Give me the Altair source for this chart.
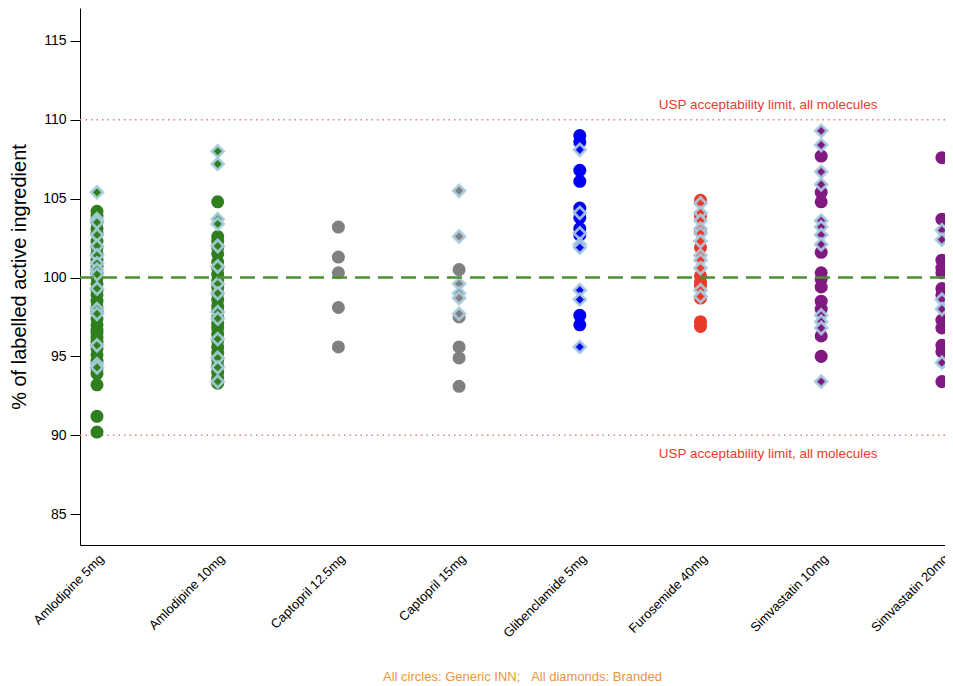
import altair as alt
import pandas as pd

categories = ["Amlodipine 5mg", "Amlodipine 10mg", "Captopril 12.5mg", "Captopril 15mg",
              "Glibenclamide 5mg", "Furosemide 40mg", "Simvastatin 10mg", "Simvastatin 20mg"]
colors = ["#2F7F1F", "#2F7F1F", "#808080", "#808080", "#0000F5", "#EA3A2A", "#7E1A80", "#7E1A80"]

# Generic INN (circles)
amlo5_generic = [104.2, 103.9, 103.5, 103.1, 102.8, 102.3, 101.9, 101.5, 101.1, 100.7, 100.3, 100.0,
                 99.6, 99.2, 98.9, 98.5, 98.1, 97.8, 97.4, 97.0, 96.7, 96.5, 96.2, 95.9, 95.5, 95.1,
                 94.7, 94.2, 93.9, 93.2, 91.2, 90.2]
amlo10_generic = [104.8, 102.6, 102.3, 101.9, 101.5, 101.0, 100.6, 100.2, 99.8, 99.4, 99.0, 98.6,
                  98.2, 97.9, 97.5, 97.1, 96.8, 96.4, 96.0, 95.6, 95.2, 94.8, 94.4, 94.0, 93.6, 93.3]
capto125_generic = [103.2, 101.3, 100.3, 98.1, 95.6]
capto15_generic = [100.5, 97.5, 95.6, 94.9, 93.1]
glib5_generic = [109.0, 108.6, 106.8, 106.1, 104.4, 103.8, 103.1, 102.7, 97.6, 97.0]
furo40_generic = [104.9, 103.9, 102.9, 101.9, 100.1, 99.7, 99.5, 98.7, 97.2, 96.9]
simva10_generic = [107.7, 105.4, 104.8, 101.6, 100.3, 99.9, 99.4, 98.5, 98.0, 96.3, 95.0]
simva20_generic = [107.6, 103.7, 101.1, 100.6, 100.3, 99.3, 98.9, 97.3, 96.8, 95.7, 95.3, 93.4]

# Branded (diamonds)
amlo5_branded = [105.4, 103.7, 103.5, 102.7, 102.0, 101.4, 100.9, 100.5, 100.2, 99.3, 98.0, 97.7,
                 95.7, 94.5, 94.3]
amlo10_branded = [108.0, 107.2, 103.7, 103.4, 102.0, 100.7, 99.6, 99.0, 97.8, 97.4, 96.1, 94.9,
                  94.3, 93.4]
capto125_branded = []
capto15_branded = [105.5, 102.6, 99.6, 99.0, 98.7, 97.7]
glib5_branded = [108.1, 104.1, 102.8, 102.1, 101.9, 99.2, 98.6, 95.6]
furo40_branded = [104.7, 104.1, 103.6, 103.1, 102.8, 102.3, 101.4, 101.1, 100.6, 99.2, 98.8]
simva10_branded = [109.3, 108.4, 106.7, 105.9, 103.6, 103.2, 102.7, 102.1, 97.6, 97.2, 96.8, 93.4]
simva20_branded = [103.0, 102.4, 98.6, 98.0, 94.6]

generic_lists = [amlo5_generic, amlo10_generic, capto125_generic, capto15_generic,
                 glib5_generic, furo40_generic, simva10_generic, simva20_generic]
branded_lists = [amlo5_branded, amlo10_branded, capto125_branded, capto15_branded,
                 glib5_branded, furo40_branded, simva10_branded, simva20_branded]

usp_limits = [110, 90]
target = 100
usp_label = "USP acceptability limit, all molecules"
caption = "All circles: Generic INN;\u00a0\u00a0\u00a0All diamonds: Branded"

rows = []
for i, (cat, g, b) in enumerate(zip(categories, generic_lists, branded_lists)):
    for v in g:
        rows.append({"idx": i, "category": cat, "value": v, "type": "Generic INN"})
    for v in b:
        rows.append({"idx": i, "category": cat, "value": v, "type": "Branded"})
df = pd.DataFrame(rows)

label_expr = "[" + ",".join("'" + c + "'" for c in categories) + "][datum.value]"

x_scale = alt.Scale(domain=[-0.1408, 7.0257], nice=False, zero=False)
x_enc = alt.X("idx:Q", scale=x_scale,
              axis=alt.Axis(values=list(range(len(categories))), labelExpr=label_expr,
                            title=None, labelAngle=-45, labelAlign="right", labelBaseline="top",
                            ticks=False, labelPadding=7, grid=False, labelFontSize=13,
                            labelColor="black", domainColor="black", labelFont="Liberation Sans"))
y_scale = alt.Scale(domain=[83.04, 117.09], nice=False, zero=False)
y_enc = alt.Y("value:Q", scale=y_scale,
              axis=alt.Axis(values=[85, 90, 95, 100, 105, 110, 115], title="% of labelled active ingredient",
                            titleFontSize=20, titleFontWeight="normal", titleColor="black",
                            titleFont="Liberation Sans", labelFont="Liberation Sans",
                            labelFontSize=14, labelColor="black", tickSize=10, tickColor="black",
                            domainColor="black", grid=False, labelPadding=4, titlePadding=13))
color_enc = alt.Color("category:N", scale=alt.Scale(domain=categories, range=colors), legend=None)

base = alt.Chart(df)
circles = base.transform_filter(alt.datum.type == "Generic INN").mark_point(
    shape="circle", filled=True, size=170, opacity=1).encode(x=x_enc, y=y_enc, color=color_enc)
diamonds = base.transform_filter(alt.datum.type == "Branded").mark_point(
    shape="diamond", filled=True, size=140, opacity=1, stroke="#A9CDE0", strokeWidth=2.8,
    strokeOpacity=0.9).encode(x=x_enc, y=y_enc, fill=color_enc)

limit_df = pd.DataFrame({"value": usp_limits})
limit_rules = alt.Chart(limit_df).mark_rule(color="#F07A70", strokeWidth=1.5, strokeDash=[1.5, 4]).encode(
    y=alt.Y("value:Q", scale=y_scale))
target_rule = alt.Chart(pd.DataFrame({"value": [target]})).mark_rule(
    color="#4C9134", strokeWidth=2.5, strokeDash=[15, 8]).encode(y=alt.Y("value:Q", scale=y_scale))

text_df = pd.DataFrame({"idx": [5.56, 5.56], "value": usp_limits, "label": [usp_label, usp_label]})
upper_text = alt.Chart(text_df).transform_filter(alt.datum.value == 110).mark_text(
    color="#EA3A2A", fontSize=13.5, font="Liberation Sans", dy=-15, baseline="middle", align="center").encode(
    x=alt.X("idx:Q", scale=x_scale), y=alt.Y("value:Q", scale=y_scale), text="label:N")
lower_text = alt.Chart(text_df).transform_filter(alt.datum.value == 90).mark_text(
    color="#EA3A2A", fontSize=13.5, font="Liberation Sans", dy=19, baseline="middle", align="center").encode(
    x=alt.X("idx:Q", scale=x_scale), y=alt.Y("value:Q", scale=y_scale), text="label:N")

chart = alt.layer(limit_rules, circles, diamonds, target_rule, upper_text, lower_text).properties(
    width=865, height=537,
    autosize=alt.AutoSizeParams(type="none"),
    padding={"left": 72, "top": 0, "right": 0, "bottom": 141},
    background="white",
    title=alt.TitleParams(caption, orient="bottom", anchor="middle", color="#E8963C", fontSize=13,
                          fontWeight="normal", font="Liberation Sans", offset=31, dx=10),
).configure_view(strokeWidth=0, stroke="transparent")

chart.save("out.html", embed_options={"renderer": "svg", "actions": False})
